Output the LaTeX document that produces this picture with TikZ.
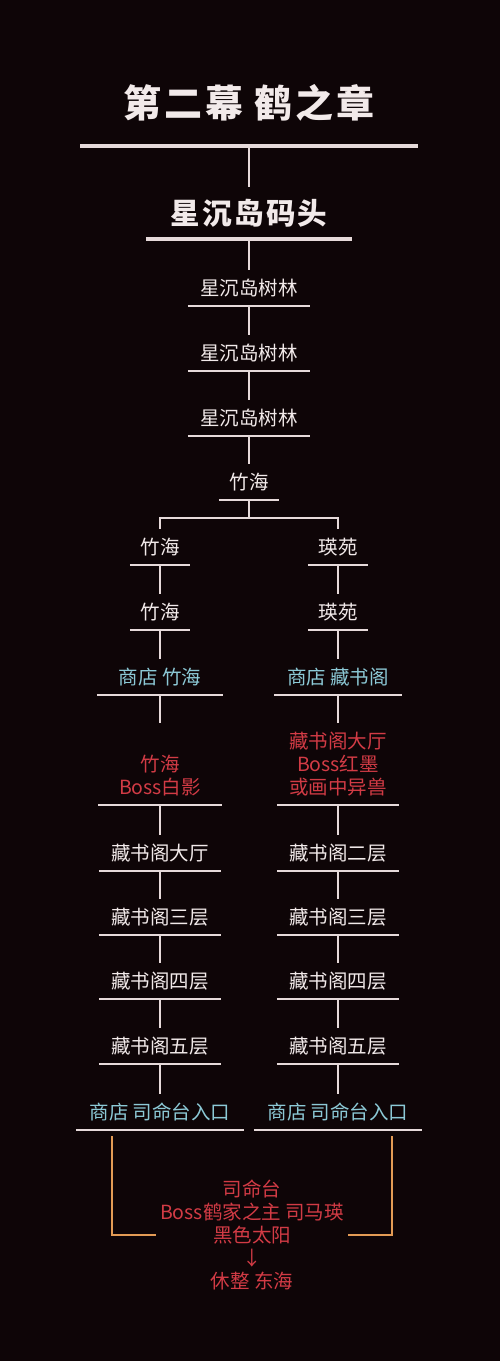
\documentclass[tikz,border=0pt]{standalone}
\usepackage{fontspec}
\usetikzlibrary{calc}
\newfontfamily\cjk{Noto Sans CJK SC}
\newfontfamily\cjktitle[LetterSpace=8]{Noto Sans CJK SC}
\definecolor{bg}{HTML}{0E0507}
\definecolor{txt}{HTML}{F2EAEA}
\definecolor{linec}{HTML}{E6DADA}
\definecolor{shopc}{HTML}{8CC9D6}
\definecolor{bossc}{HTML}{D23B45}
\definecolor{bracketc}{HTML}{E39B55}
\tikzset{
  room/.style={inner sep=0pt,minimum height=36pt,minimum width=122pt,text=txt,font=\cjk\fontsize{19.5}{23}\selectfont},
  shop/.style={room,text=shopc},
  boss/.style={room,text=bossc,align=center,minimum height=82pt},
  bar/.style={draw=linec,line width=2pt},
  bigbar/.style={draw=linec,line width=4pt},
  bracket/.style={draw=bracketc,line width=2pt}
}
\begin{document}
\begin{tikzpicture}[x=1pt,y=-1pt]
\useasboundingbox (0,0) rectangle (500,1361);
\fill[bg] (0,0) rectangle (500,1361);

\node[inner sep=0pt,minimum width=337pt,minimum height=86pt,text=txt,font=\cjktitle\bfseries\fontsize{38}{40}\selectfont] (top) at (249,103) {第二幕 鹤之章};
\node[inner sep=0pt,minimum width=206pt,minimum height=52pt,text=txt,font=\cjktitle\bfseries\fontsize{29.5}{32}\selectfont] (dock) at (249,213) {星沉岛码头};
\node[room] (w1) at (249,288) {星沉岛树林};
\node[room] (w2) at (249,353) {星沉岛树林};
\node[room] (w3) at (249,418) {星沉岛树林};
\node[room,minimum width=60pt] (zh) at (249,482) {竹海};

\draw[bigbar] (top.south west) -- (top.south east);
\draw[bigbar] (dock.south west) -- (dock.south east);
\draw[bar] (w1.south west) -- (w1.south east);
\draw[bar] (w2.south west) -- (w2.south east);
\draw[bar] (w3.south west) -- (w3.south east);
\draw[bar] (zh.south west) -- (zh.south east);

\draw[bar] (top.south) -- (dock.north);
\draw[bar] (dock.south) -- (w1.north);
\draw[bar] (w1.south) -- (w2.north);
\draw[bar] (w2.south) -- (w3.north);
\draw[bar] (w3.south) -- (zh.north);

\node[room,minimum width=60pt] (l1) at (160,547) {竹海};
\node[room,minimum width=60pt] (l2) at (160,612) {竹海};
\node[shop,minimum width=126pt] (l3) at (160,677) {商店 竹海};
\node[boss,minimum width=123pt] (l4) at (160,764) {\strut\\竹海\\Boss白影};
\node[room] (l5) at (160,853) {藏书阁大厅};
\node[room] (l6) at (160,917) {藏书阁三层};
\node[room] (l7) at (160,981) {藏书阁四层};
\node[room] (l8) at (160,1046) {藏书阁五层};
\node[shop,minimum width=168pt] (l9) at (160,1112) {商店 司命台入口};

\node[room,minimum width=60pt] (r1) at (338,547) {瑛苑};
\node[room,minimum width=60pt] (r2) at (338,612) {瑛苑};
\node[shop,minimum width=127pt] (r3) at (338,677) {商店 藏书阁};
\node[boss] (r4) at (338,764) {藏书阁大厅\\Boss红墨\\或画中异兽};
\node[room] (r5) at (338,853) {藏书阁二层};
\node[room] (r6) at (338,917) {藏书阁三层};
\node[room] (r7) at (338,981) {藏书阁四层};
\node[room] (r8) at (338,1046) {藏书阁五层};
\node[shop,minimum width=168pt] (r9) at (338,1112) {商店 司命台入口};

\draw[bar] (zh.south) -- ++(0,18) -| (l1.north);
\draw[bar] (zh.south) -- ++(0,18) -| (r1.north);

\draw[bar] (l1.south west) -- (l1.south east);
\draw[bar] (l2.south west) -- (l2.south east);
\draw[bar] (l3.south west) -- (l3.south east);
\draw[bar] (l4.south west) -- (l4.south east);
\draw[bar] (l5.south west) -- (l5.south east);
\draw[bar] (l6.south west) -- (l6.south east);
\draw[bar] (l7.south west) -- (l7.south east);
\draw[bar] (l8.south west) -- (l8.south east);
\draw[bar] (l9.south west) -- (l9.south east);

\draw[bar] (r1.south west) -- (r1.south east);
\draw[bar] (r2.south west) -- (r2.south east);
\draw[bar] (r3.south west) -- (r3.south east);
\draw[bar] (r4.south west) -- (r4.south east);
\draw[bar] (r5.south west) -- (r5.south east);
\draw[bar] (r6.south west) -- (r6.south east);
\draw[bar] (r7.south west) -- (r7.south east);
\draw[bar] (r8.south west) -- (r8.south east);
\draw[bar] (r9.south west) -- (r9.south east);

\draw[bar] (l1.south) -- (l2.north);
\draw[bar] (l2.south) -- (l3.north);
\draw[bar] (l3.south) -- (l4.north);
\draw[bar] (l4.south) -- (l5.north);
\draw[bar] (l5.south) -- (l6.north);
\draw[bar] (l6.south) -- (l7.north);
\draw[bar] (l7.south) -- (l8.north);
\draw[bar] (l8.south) -- (l9.north);

\draw[bar] (r1.south) -- (r2.north);
\draw[bar] (r2.south) -- (r3.north);
\draw[bar] (r3.south) -- (r4.north);
\draw[bar] (r4.south) -- (r5.north);
\draw[bar] (r5.south) -- (r6.north);
\draw[bar] (r6.south) -- (r7.north);
\draw[bar] (r7.south) -- (r8.north);
\draw[bar] (r8.south) -- (r9.north);

\node[inner xsep=4pt,inner ysep=0pt,align=center,text=bossc,font=\cjk\fontsize{19.5}{23}\selectfont] (fin) at (252,1235) {司命台\\Boss鹤家之主 司马瑛\\黑色太阳\\↓\\休整 东海};

\draw[bracket] ($(l9.south west)+(36,6)$) |- (fin.west);
\draw[bracket] ($(r9.south east)+(-30,6)$) |- (fin.east);
\end{tikzpicture}
\end{document}
